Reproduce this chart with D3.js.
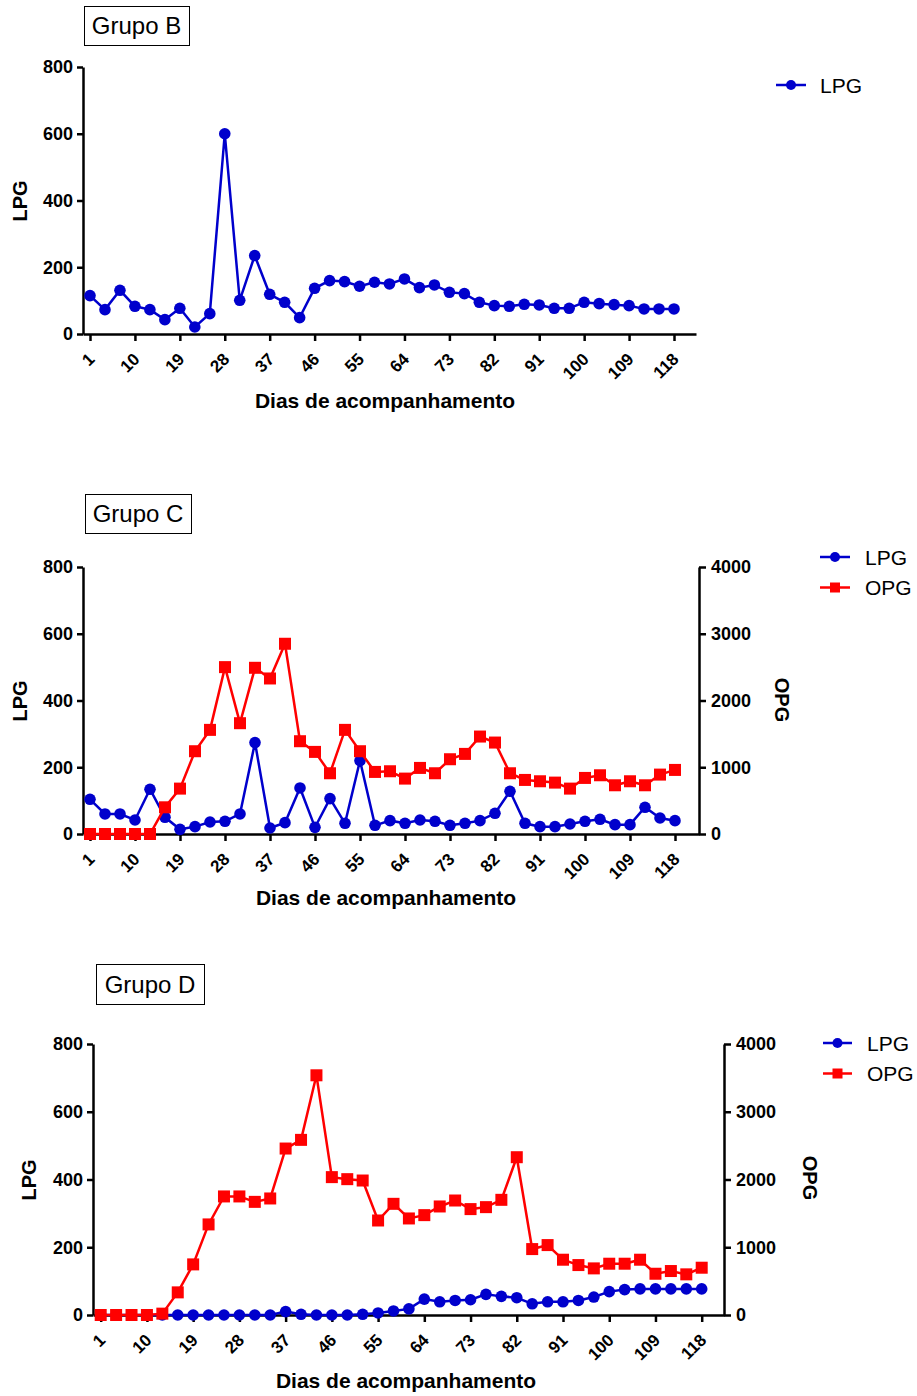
<!DOCTYPE html>
<html>
<head>
<meta charset="utf-8">
<script src="https://cdn.jsdelivr.net/npm/d3@7"></script>
<style>
  body { margin: 0; background: #fff; }
  svg { display: block; font-family: Arial, "Liberation Sans", sans-serif; }
</style>
</head>
<body>
<svg width="917" height="1396"></svg>
<script>
const days = [1, 4, 7, 10, 13, 16, 19, 22, 25, 28, 31, 34, 37, 40, 43, 46, 49, 52, 55, 58,
  61, 64, 67, 70, 73, 76, 79, 82, 85, 88, 91, 94, 97, 100, 103, 106, 109, 112, 115, 118]
const tickDays = [1, 10, 19, 28, 37, 46, 55, 64, 73, 82, 91, 100, 109, 118]
const lpgTicks = [0, 200, 400, 600, 800]
const opgTicks = [0, 1000, 2000, 3000, 4000]

const lpgB = [115, 73, 131, 83, 73, 43, 77, 21, 61, 600, 101, 235, 119, 95, 49, 137, 160, 157, 143, 155,
  150, 165, 139, 147, 125, 121, 95, 85, 83, 89, 87, 77, 77, 95, 91, 88, 85, 75, 75, 75]

const lpgC = [104, 60, 60, 42, 134, 50, 14, 22, 36, 38, 60, 274, 18, 34, 138, 20, 106, 32, 220, 26,
  40, 32, 42, 38, 26, 32, 40, 62, 128, 32, 22, 22, 30, 38, 44, 28, 28, 80, 48, 40]
const opgC = [0, 0, 0, 0, 0, 400, 680, 1240, 1560, 2500, 1660, 2490, 2330, 2850, 1390, 1230, 910, 1560, 1240, 930,
  940, 830, 990, 910, 1120, 1200, 1460, 1370, 910, 810, 790, 770, 680, 840, 880, 730, 790, 730, 890, 960]

const lpgD = [0, 0, 0, 0, 0, 0, 0, 0, 0, 0, 0, 0, 10, 2, 0, 0, 0, 2, 6, 12,
  18, 47, 39, 43, 45, 61, 55, 51, 33, 39, 39, 43, 53, 69, 75, 77, 77, 77, 77, 77]
const opgD = [0, 0, 0, 0, 20, 334, 747, 1337, 1750, 1750, 1670, 1720, 2457, 2585, 3538, 2035, 2005, 1985, 1395, 1641,
  1425, 1474, 1602, 1690, 1563, 1592, 1700, 2329, 973, 1032, 816, 737, 688, 757, 757, 816, 609, 649, 600, 698]

const blue = '#0000cc'
const red = '#ff0000'
const svg = d3.select('svg')

const panels = [
  { title: 'Grupo B', box: [84, 6, 105, 39], lpg: lpgB, opg: null,
    top: 67, bottom: 334, left: 83, right: 696, first: 90, last: 674,
    lpgLabel: [20, 201], xTitle: [385, 408], legend: [776, 806, 820, 85] },
  { title: 'Grupo C', box: [85, 494, 106, 39], lpg: lpgC, opg: opgC,
    top: 567, bottom: 834, left: 83, right: 699, first: 90, last: 675,
    lpgLabel: [20, 701], opgLabel: [782, 700], xTitle: [386, 905], legend: [820, 850, 865, 557] },
  { title: 'Grupo D', box: [96, 964, 108, 40], lpg: lpgD, opg: opgD,
    top: 1044, bottom: 1315, left: 93, right: 724, first: 100.7, last: 701.7,
    lpgLabel: [29, 1180], opgLabel: [810, 1178], xTitle: [406, 1388], legend: [823, 852, 867, 1043] }
]

panels.forEach(drawPanel)

function drawPanel(p) {
  const g = svg.append('g')

  // title box
  g.append('rect')
    .attr('x', p.box[0] + 0.5).attr('y', p.box[1] + 0.5)
    .attr('width', p.box[2]).attr('height', p.box[3])
    .attr('fill', 'none').attr('stroke', '#000').attr('stroke-width', 1)
  g.append('text')
    .attr('x', p.box[0] + p.box[2] / 2).attr('y', p.box[1] + p.box[3] / 2 + 8.5)
    .attr('text-anchor', 'middle')
    .attr('font-size', 24)
    .text(p.title)

  const x0 = d3.scaleLinear().domain([1, 118]).range([p.first, p.last])
  const x = x0.copy().domain([x0.invert(p.left), x0.invert(p.right)]).range([p.left, p.right])
  const y = d3.scaleLinear().domain([0, 800]).range([p.bottom, p.top])
  const y2 = d3.scaleLinear().domain([0, 4000]).range([p.bottom, p.top])

  // x axis, labels turned 45 degrees
  const xAxis = g.append('g')
    .attr('transform', `translate(0,${p.bottom})`)
    .call(d3.axisBottom(x).tickValues(tickDays).tickSize(7).tickSizeOuter(0))
  xAxis.selectAll('.tick text')
    .attr('font-size', 17).attr('font-weight', 'bold')
    .attr('text-anchor', 'end')
    .attr('x', 0).attr('y', 0).attr('dy', '0.35em')
    .attr('transform', 'translate(1,22) rotate(-45)')

  // left axis
  const yAxis = g.append('g')
    .attr('transform', `translate(${p.left},0)`)
    .call(d3.axisLeft(y).tickValues(lpgTicks).tickSize(6).tickPadding(4).tickSizeOuter(0))
  yAxis.selectAll('text').attr('font-size', 18).attr('font-weight', 'bold')

  if (p.opg) {
    const y2Axis = g.append('g')
      .attr('transform', `translate(${p.right},0)`)
      .call(d3.axisRight(y2).tickValues(opgTicks).tickFormat(d3.format('d'))
        .tickSize(7).tickPadding(5).tickSizeOuter(0))
    y2Axis.selectAll('text').attr('font-size', 18).attr('font-weight', 'bold')
    g.append('text')
      .attr('transform', `translate(${p.opgLabel[0]},${p.opgLabel[1]}) rotate(90)`)
      .attr('text-anchor', 'middle').attr('dy', '0.35em')
      .attr('font-size', 20).attr('font-weight', 'bold')
      .text('OPG')
  }

  g.selectAll('.domain, .tick line')
    .attr('stroke', '#000').attr('stroke-width', 2.5)
  g.selectAll('.tick text').attr('fill', '#000')

  // axis titles
  g.append('text')
    .attr('transform', `translate(${p.lpgLabel[0]},${p.lpgLabel[1]}) rotate(-90)`)
    .attr('text-anchor', 'middle').attr('dy', '0.35em')
    .attr('font-size', 20).attr('font-weight', 'bold')
    .text('LPG')
  g.append('text')
    .attr('x', p.xTitle[0]).attr('y', p.xTitle[1])
    .attr('text-anchor', 'middle')
    .attr('font-size', 21).attr('font-weight', 'bold')
    .text('Dias de acompanhamento')

  // LPG series
  const lpgData = days.map((d, i) => ({ day: d, v: p.lpg[i] }))
  g.append('path')
    .datum(lpgData)
    .attr('fill', 'none').attr('stroke', blue).attr('stroke-width', 2.5)
    .attr('d', d3.line().x(d => x(d.day)).y(d => y(d.v)))
  g.selectAll('.dot')
    .data(lpgData).enter().append('circle')
    .attr('cx', d => x(d.day)).attr('cy', d => y(d.v))
    .attr('r', 5.8).attr('fill', blue)

  // OPG series, on the right axis
  if (p.opg) {
    const opgData = days.map((d, i) => ({ day: d, v: p.opg[i] }))
    g.append('path')
      .datum(opgData)
      .attr('fill', 'none').attr('stroke', red).attr('stroke-width', 2.5)
      .attr('d', d3.line().x(d => x(d.day)).y(d => y2(d.v)))
    g.selectAll('.sq')
      .data(opgData).enter().append('rect')
      .attr('x', d => x(d.day) - 6).attr('y', d => y2(d.v) - 6)
      .attr('width', 12).attr('height', 12).attr('fill', red)
  }

  // legend
  const [lx0, lx1, tx, ly] = p.legend
  const series = p.opg ? [['LPG', blue, 'circle'], ['OPG', red, 'square']] : [['LPG', blue, 'circle']]
  series.forEach(([name, color, shape], i) => {
    const yy = ly + i * 30.5
    g.append('line')
      .attr('x1', lx0).attr('x2', lx1).attr('y1', yy).attr('y2', yy)
      .attr('stroke', color).attr('stroke-width', 2.5)
    const cx = (lx0 + lx1) / 2
    if (shape === 'circle') {
      g.append('circle').attr('cx', cx).attr('cy', yy).attr('r', 5).attr('fill', color)
    } else {
      g.append('rect').attr('x', cx - 5).attr('y', yy - 5).attr('width', 10).attr('height', 10).attr('fill', color)
    }
    g.append('text')
      .attr('x', tx).attr('y', yy).attr('dy', '0.36em')
      .attr('font-size', 21)
      .text(name)
  })
}
</script>
</body>
</html>
